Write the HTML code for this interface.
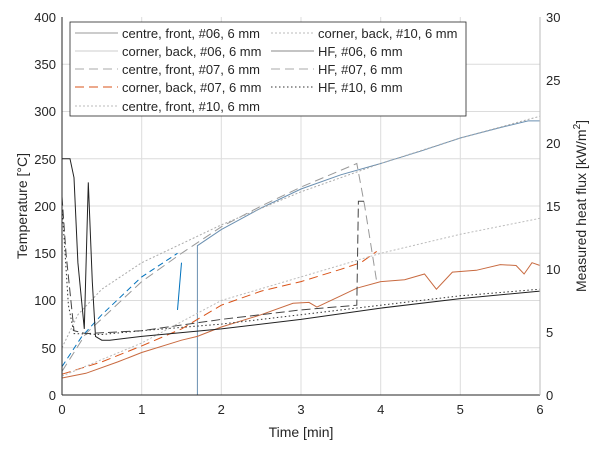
<!DOCTYPE html>
<html><head><meta charset="utf-8"><style>
body{margin:0;background:#fff;font-family:"Liberation Sans",sans-serif;}
svg text{font-family:"Liberation Sans",sans-serif;fill:#262626;}
</style></head><body>
<svg id="s" width="600" height="447" viewBox="0 0 600 447" xmlns="http://www.w3.org/2000/svg">
<rect x="62" y="17" width="478" height="378" fill="#fff"/>
<g stroke="#dcdcdc" stroke-width="1">
<line x1="141.7" y1="17" x2="141.7" y2="395"/><line x1="221.3" y1="17" x2="221.3" y2="395"/>
<line x1="301" y1="17" x2="301" y2="395"/><line x1="380.7" y1="17" x2="380.7" y2="395"/>
<line x1="460.3" y1="17" x2="460.3" y2="395"/>
<line x1="62" y1="64.3" x2="540" y2="64.3"/><line x1="62" y1="111.5" x2="540" y2="111.5"/>
<line x1="62" y1="158.8" x2="540" y2="158.8"/><line x1="62" y1="206" x2="540" y2="206"/>
<line x1="62" y1="253.3" x2="540" y2="253.3"/><line x1="62" y1="300.5" x2="540" y2="300.5"/>
<line x1="62" y1="347.8" x2="540" y2="347.8"/>
</g>
<g id="curves" fill="none"></g>
<line x1="62" y1="17" x2="62" y2="395" stroke="#262626"/>
<line x1="62" y1="395" x2="540" y2="395" stroke="#262626"/>
<line x1="540" y1="17" x2="540" y2="395" stroke="#bbb"/>
<g font-size="13" text-anchor="end">
<text x="56" y="400">0</text><text x="56" y="353">50</text><text x="56" y="305">100</text>
<text x="56" y="258">150</text><text x="56" y="211">200</text><text x="56" y="164">250</text>
<text x="56" y="116">300</text><text x="56" y="69">350</text><text x="56" y="22">400</text>
</g>
<g font-size="13" text-anchor="start">
<text x="546" y="400">0</text><text x="546" y="337">5</text><text x="546" y="274">10</text>
<text x="546" y="211">15</text><text x="546" y="148">20</text><text x="546" y="85">25</text><text x="546" y="22">30</text>
</g>
<g font-size="13" text-anchor="middle">
<text x="62" y="414">0</text><text x="141.7" y="414">1</text><text x="221.3" y="414">2</text>
<text x="301" y="414">3</text><text x="380.7" y="414">4</text><text x="460.3" y="414">5</text><text x="540" y="414">6</text>
<text x="301" y="437" font-size="14">Time [min]</text>
</g>
<text font-size="14" text-anchor="middle" transform="translate(27,206) rotate(-90)">Temperature [°C]</text>
<text font-size="14" text-anchor="middle" transform="translate(586,206) rotate(-90)">Measured heat flux [kW/m<tspan font-size="10" dy="-6">2</tspan><tspan dy="6">]</tspan></text>
<rect x="70" y="22" width="396" height="94" fill="#fff" stroke="#262626" stroke-width="0.8"/>
<g font-size="13">
<line x1="75" y1="33" x2="118" y2="33" stroke="#999"/><text x="122" y="38">centre, front, #06, 6 mm</text>
<line x1="75" y1="51" x2="118" y2="51" stroke="#ccc"/><text x="122" y="56">corner, back, #06, 6 mm</text>
<line x1="75" y1="69" x2="118" y2="69" stroke="#aaa" stroke-dasharray="9,5"/><text x="122" y="74">centre, front, #07, 6 mm</text>
<line x1="75" y1="87" x2="118" y2="87" stroke="#d95319" stroke-dasharray="9,5"/><text x="122" y="92">corner, back, #07, 6 mm</text>
<line x1="75" y1="106" x2="118" y2="106" stroke="#bbb" stroke-dasharray="2,2"/><text x="122" y="111">centre, front, #10, 6 mm</text>
<line x1="271" y1="33" x2="314" y2="33" stroke="#bbb" stroke-dasharray="2,2"/><text x="318" y="38">corner, back, #10, 6 mm</text>
<line x1="271" y1="51" x2="314" y2="51" stroke="#888"/><text x="318" y="56">HF, #06, 6 mm</text>
<line x1="271" y1="69" x2="314" y2="69" stroke="#aaa" stroke-dasharray="9,5"/><text x="318" y="74">HF, #07, 6 mm</text>
<line x1="271" y1="87" x2="314" y2="87" stroke="#333" stroke-dasharray="1.5,2.5"/><text x="318" y="92">HF, #10, 6 mm</text>
</g>
</svg>
<script>
const X=t=>62+t*79.667, Y=T=>395-T*0.945;
const series=[
 [[[0,30],[0.25,62],[0.5,85],[1,125],[1.45,150]],"#0072bd","6,4",1],
 [[[1.7,0],[1.7,158],[2,175],[2.5,198],[3,218],[3.5,233],[4,245],[4.5,258],[5,272],[5.5,283],[5.85,290],[6,290]],"#6a8fb0","",1],
 [[[1.45,90],[1.5,140]],"#0072bd","",1],
 [[[0,25],[0.3,65],[1,120],[1.5,150],[2,178],[2.5,200],[3,220],[3.7,245],[3.8,200],[3.95,120]],"#999","9,5",1],
 [[[0,50],[0.2,85],[0.5,112],[1,140],[1.5,160],[2,180],[3,215],[4,245],[5,272],[6,295]],"#aaa","2,2",1],
 [[[0,18],[0.3,23],[0.7,35],[1,45],[1.5,58],[1.7,62],[2,72],[2.5,85],[2.9,97],[3.1,98],[3.2,93],[3.5,105],[3.7,113],[4,120],[4.3,122],[4.55,128],[4.7,112],[4.9,130],[5.2,132],[5.5,138],[5.7,137],[5.8,128],[5.9,140],[6,137]],"#c86a40","",1],
 [[[0,22],[0.5,35],[1,52],[1.5,70],[2,95],[2.5,110],[3,120],[3.5,133],[3.75,140],[3.95,152]],"#d95319","9,5",1],
 [[[0,20],[1,55],[2,100],[3,125],[4,150],[5,170],[6,187]],"#bbb","2,2",1],
 [[[0,250],[0.1,250],[0.15,230],[0.2,140],[0.28,70],[0.33,225],[0.38,120],[0.42,62],[0.5,58],[0.6,58],[1,62],[2,70],[3,80],[4,92],[5,102],[6,110]],"#222","",1],
 [[[0,210],[0.05,150],[0.15,68],[0.3,65],[1,68],[2,80],[3,90],[3.7,95],[3.72,205],[3.8,205]],"#444","9,4",1],
 [[[0,200],[0.08,95],[0.15,65],[0.5,64],[1,68],[2,75],[3,85],[4,95],[5,105],[6,112]],"#333","1.5,2.5",1]
];
const g=document.getElementById("curves");
for(const [pts,c,d,w] of series){
 const p=document.createElementNS("http://www.w3.org/2000/svg","polyline");
 p.setAttribute("points",pts.map(q=>X(q[0]).toFixed(1)+","+Y(q[1]).toFixed(1)).join(" "));
 p.setAttribute("stroke",c);p.setAttribute("stroke-width",w);
 if(d)p.setAttribute("stroke-dasharray",d);
 g.appendChild(p);
}
</script>
</body></html>
